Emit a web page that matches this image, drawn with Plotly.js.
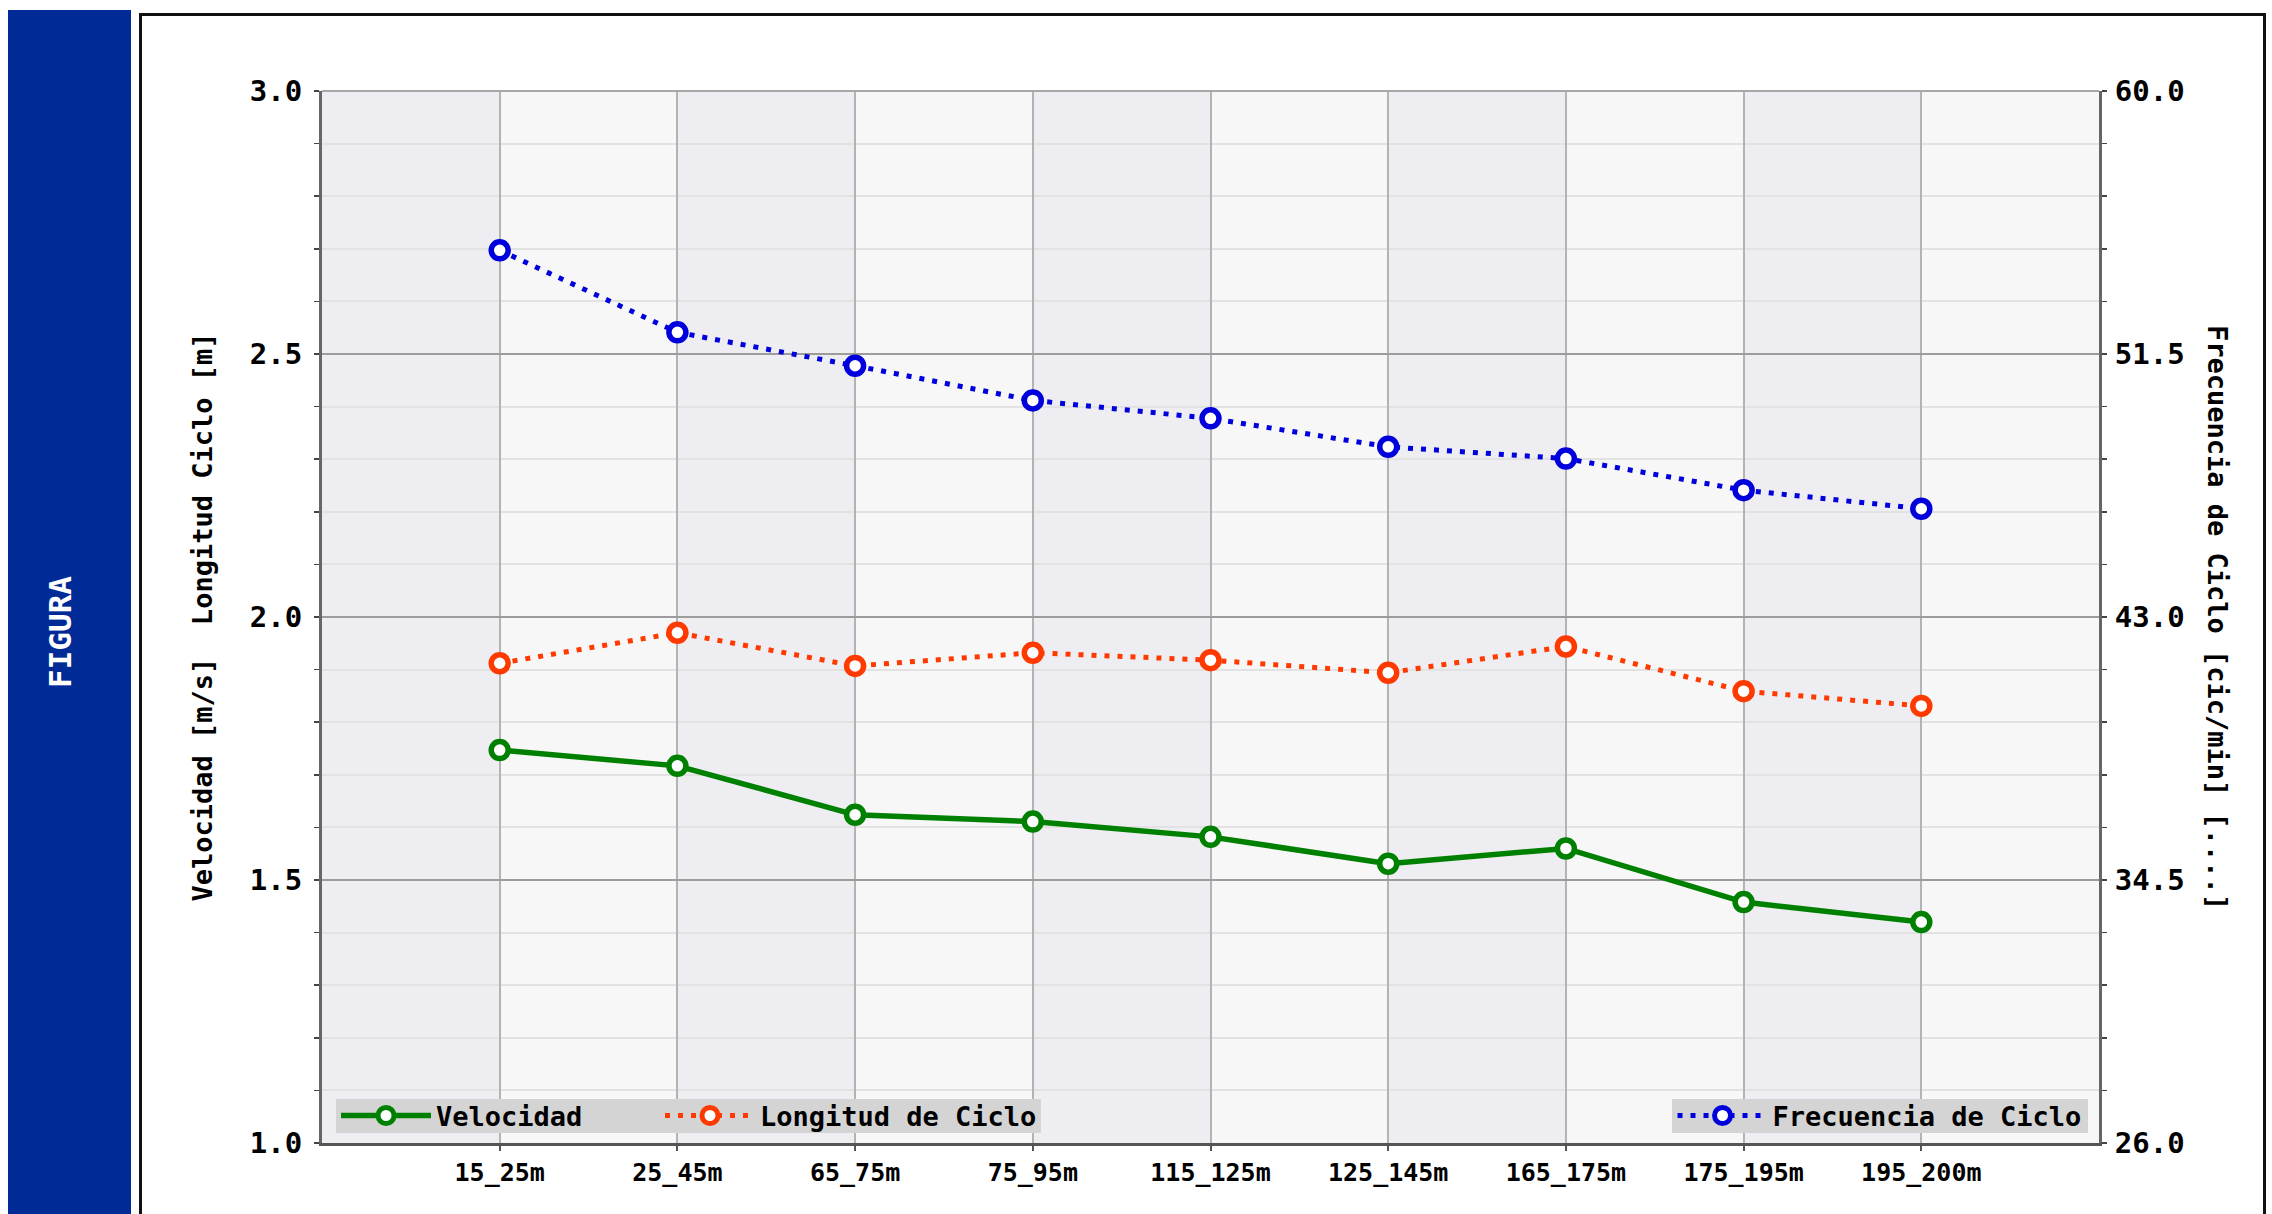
<!DOCTYPE html>
<html>
<head>
<meta charset="utf-8">
<script src="https://cdn.plot.ly/plotly-3.0.1.min.js"></script>
<style>
  html, body { margin: 0; padding: 0; background: #ffffff; width: 2272px; height: 1214px; overflow: hidden; }
  #sidebar { position: absolute; left: 8px; top: 10px; width: 123px; height: 1300px; background: rgb(0, 42, 150); }
  #sidebar span { position: absolute; left: 52px; top: 622px; transform: translate(-50%, -50%) rotate(-90deg);
    color: #ffffff; font-family: "DejaVu Sans Mono", monospace; font-weight: bold; font-size: 31px; white-space: nowrap; }
  #frame { position: absolute; left: 139px; top: 13px; width: 2127px; height: 1400px; border: 3px solid #111; box-sizing: border-box; }
  #chart { position: absolute; left: 0; top: 0; width: 2272px; height: 1214px; }
</style>
</head>
<body>
<div id="sidebar"><span>FIGURA</span></div>
<div id="frame"></div>
<div id="chart"></div>
<script>
// ---- data ----
const categories = ['15_25m', '25_45m', '65_75m', '75_95m', '115_125m', '125_145m', '165_175m', '175_195m', '195_200m'];
const velocidad  = [1.747, 1.717, 1.624, 1.611, 1.582, 1.531, 1.560, 1.458, 1.420];
const longitud   = [1.912, 1.970, 1.907, 1.932, 1.918, 1.894, 1.944, 1.859, 1.831];
const frecuencia = [54.85, 52.20, 51.12, 50.00, 49.42, 48.50, 48.12, 47.10, 46.50];
const leftTickVals  = [1.0, 1.5, 2.0, 2.5, 3.0];
const rightTickVals = [26.0, 34.5, 43.0, 51.5, 60.0];
const seriesNames = ['Velocidad', 'Longitud de Ciclo', 'Frecuencia de Ciclo'];
const leftTitle  = 'Velocidad [m/s]\u00a0 Longitud Ciclo [m]';
const rightTitle = 'Frecuencia de Ciclo [cic/min] [....]';

const FONT = '"DejaVu Sans Mono", monospace';

const markerStyle = (c) => ({ symbol: 'circle', size: 17, color: '#ffffff', line: { color: c, width: 5.5 } });

const traces = [
  { x: categories, y: velocidad, name: seriesNames[0], type: 'scatter', mode: 'lines+markers',
    line: { color: '#008000', width: 5.5 }, marker: markerStyle('#008000'), legend: 'legend', yaxis: 'y' },
  { x: categories, y: longitud, name: seriesNames[1], type: 'scatter', mode: 'lines+markers',
    line: { color: '#ff3a00', width: 5, dash: '5px,8px' }, marker: markerStyle('#ff3a00'), legend: 'legend3', yaxis: 'y' },
  { x: categories, y: frecuencia, name: seriesNames[2], type: 'scatter', mode: 'lines+markers',
    line: { color: '#0000dd', width: 5, dash: '5px,8px' }, marker: markerStyle('#0000dd'), legend: 'legend2', yaxis: 'y2' }
];

// alternating vertical bands
const shapes = [];
for (let i = -1; i < categories.length; i += 2) {
  shapes.push({ type: 'rect', layer: 'below', xref: 'x', yref: 'paper', x0: i, x1: i + 1, y0: 0, y1: 1,
    fillcolor: '#eeeef2', line: { width: 0 } });
}
shapes.push({ type: 'line', layer: 'above', xref: 'paper', yref: 'paper', x0: 0, x1: 1, y0: 1, y1: 1,
  line: { color: '#a8a8a8', width: 2 } });
// legend background boxes
shapes.push({ type: 'rect', layer: 'above', xref: 'paper', yref: 'paper', x0: 0.0079, x1: 0.4046, y0: 0.0095, y1: 0.0418,
  fillcolor: '#d4d4d4', line: { width: 0 } });
shapes.push({ type: 'rect', layer: 'above', xref: 'paper', yref: 'paper', x0: 0.7597, x1: 0.9938, y0: 0.0095, y1: 0.0418,
  fillcolor: '#d4d4d4', line: { width: 0 } });

const legendFont = { family: FONT, size: 27, weight: 'bold', color: '#000' };
const legendBase = { orientation: 'h', y: 0.0257, xanchor: 'left', yanchor: 'middle',
  bgcolor: 'rgba(0,0,0,0)', borderwidth: 0, font: legendFont, itemwidth: 90 };

const layout = {
  width: 2272, height: 1214,
  margin: { l: 322, r: 173, t: 91, b: 71, pad: 0 },
  paper_bgcolor: 'rgba(0,0,0,0)',
  plot_bgcolor: '#f7f7f7',
  font: { family: FONT, color: '#000000', weight: 'bold' },
  showlegend: true,
  xaxis: {
    type: 'category', categoryarray: categories, range: [-1, categories.length],
    showgrid: true, gridcolor: '#b3b3b3', gridwidth: 2,
    showline: true, linecolor: '#555555', linewidth: 3,
    ticks: 'outside', ticklen: 5, tickwidth: 2, tickcolor: '#555555',
    tickfont: { family: FONT, size: 25, weight: 'bold', color: '#000' },
    zeroline: false, fixedrange: true
  },
  yaxis: {
    range: [1, 3], tickmode: 'array', tickvals: leftTickVals, tickformat: '.1f',
    showgrid: true, gridcolor: '#9c9c9c', gridwidth: 1.5,
    minor: { dtick: 0.1, tick0: 1, showgrid: true, gridcolor: '#e2e2e2', gridwidth: 2, ticks: 'outside', ticklen: 5, tickcolor: '#444' },
    showline: true, linecolor: '#666666', linewidth: 3,
    ticks: 'outside', ticklen: 5, tickwidth: 1.5, tickcolor: '#444',
    ticklabelstandoff: 6,
    tickfont: { family: FONT, size: 29, weight: 'bold', color: '#000' },
    zeroline: false,
    title: { text: leftTitle, font: { family: FONT, size: 27, weight: 'bold', color: '#000' }, standoff: 30 }
  },
  yaxis2: {
    overlaying: 'y', side: 'right', range: [26, 60], tickmode: 'array', tickvals: rightTickVals, tickformat: '.1f',
    showgrid: false,
    minor: { dtick: 1.7, tick0: 26, showgrid: false, ticks: 'outside', ticklen: 5, tickcolor: '#444' },
    showline: true, linecolor: '#666666', linewidth: 3,
    ticks: 'outside', ticklen: 5, tickwidth: 1.5, tickcolor: '#444',
    ticklabelstandoff: 2,
    tickfont: { family: FONT, size: 29, weight: 'bold', color: '#000' },
    zeroline: false
  },
  legend:  Object.assign({}, legendBase, { x: 0.0079 }),
  legend3: Object.assign({}, legendBase, { x: 0.1902 }),
  legend2: Object.assign({}, legendBase, { x: 0.760 }),
  shapes: shapes,
  annotations: [
    { text: rightTitle, xref: 'paper', yref: 'paper', x: 1.067, y: 0.5, xanchor: 'center', yanchor: 'middle',
      textangle: 90, showarrow: false, font: { family: FONT, size: 27, weight: 'bold', color: '#000' } }
  ]
};

Plotly.newPlot('chart', traces, layout, { displayModeBar: false, staticPlot: true });
</script>
</body>
</html>
